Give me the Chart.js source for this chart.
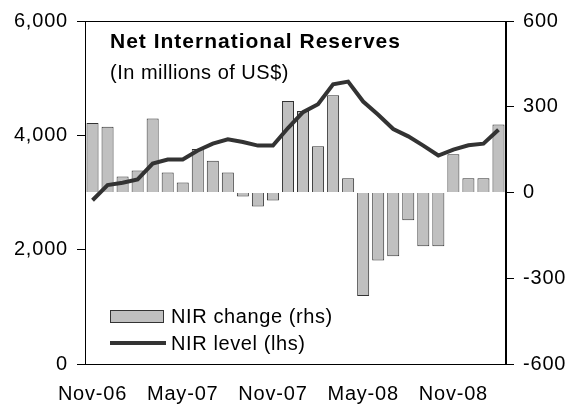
<!DOCTYPE html>
<html>
<head>
<meta charset="utf-8">
<script src="https://cdn.jsdelivr.net/npm/chart.js@4"></script>
<style>
  html, body { margin: 0; padding: 0; background: #fff; }
  #box { width: 571px; height: 408px; }
</style>
</head>
<body>
<div id="box"><canvas id="grafico"></canvas></div>
<script>
// dados
const meses = ['Nov-06','Dec-06','Jan-07','Feb-07','Mar-07','Apr-07','May-07','Jun-07','Jul-07','Aug-07','Sep-07','Oct-07',
               'Nov-07','Dec-07','Jan-08','Feb-08','Mar-08','Apr-08','May-08','Jun-08','Jul-08','Aug-08','Sep-08','Oct-08',
               'Nov-08','Dec-08','Jan-09','Feb-09'];
const nirChange = [243, 230, 56, 77, 259, 70, 35, 152, 111, 70, -14, -49, -28, 320, 285, 162, 340, 50,
                   -362, -238, -223, -97, -188, -188, 134, 50, 50, 238];
const nirLevel = [2864, 3130, 3170, 3229, 3507, 3577, 3577, 3734, 3855, 3930, 3883, 3820, 3820, 4127, 4405, 4544,
                  4892, 4939, 4591, 4360, 4110, 3982, 3820, 3647, 3751, 3826, 3855, 4099];
const ticksEsq = [0, 2000, 4000, 6000];
const ticksDir = [-600, -300, 0, 300, 600];

const fonte = '"Liberation Sans", Arial, sans-serif';
Chart.defaults.font.family = fonte;
Chart.defaults.font.size = 20;
Chart.defaults.color = '#000';

// espaçamento das letras como no original
const espaco = {
    id: 'espaco',
    beforeDraw(chart) { chart.ctx.letterSpacing = '0.8px'; }
};

// moldura, titulo e legenda desenhados por cima
const extras = {
    id: 'extras',
    afterDraw(chart) {
        const ctx = chart.ctx;
        const a = chart.chartArea;
        ctx.save();
        ctx.strokeStyle = '#000';
        ctx.lineWidth = 1;
        ctx.strokeRect(Math.round(a.left) + 0.5, Math.round(a.top) + 0.5,
                       Math.round(a.right - a.left) - 1, Math.round(a.bottom - a.top));

        ctx.fillStyle = '#000';
        ctx.textBaseline = 'middle';
        ctx.textAlign = 'left';
        ctx.letterSpacing = '1px';
        ctx.font = 'bold 21px ' + fonte;
        ctx.fillText('Net International Reserves', 110, 42);
        ctx.letterSpacing = '0.5px';
        ctx.font = '20px ' + fonte;
        ctx.fillText('(In millions of US$)', 110, 73);

        // legenda
        const ds = chart.data.datasets;
        ctx.fillStyle = ds[0].backgroundColor;
        ctx.strokeStyle = ds[0].borderColor;
        ctx.fillRect(110.5, 310.5, 53, 12);
        ctx.strokeRect(110.5, 310.5, 53, 12);
        ctx.strokeStyle = ds[1].borderColor;
        ctx.lineWidth = ds[1].borderWidth;
        ctx.beginPath();
        ctx.moveTo(110, 343);
        ctx.lineTo(166, 343);
        ctx.stroke();
        ctx.fillStyle = '#000';
        ctx.letterSpacing = '0.6px';
        ctx.font = '20px ' + fonte;
        ctx.fillText(ds[0].label, 171, 317);
        ctx.fillText(ds[1].label, 171, 344);
        ctx.restore();
        ctx.letterSpacing = '0px';
    }
};

new Chart(document.getElementById('grafico'), {
    type: 'bar',
    data: {
        labels: meses,
        datasets: [{
            type: 'bar',
            label: 'NIR change (rhs)',
            data: nirChange,
            yAxisID: 'yDir',
            backgroundColor: '#c0c0c0',
            borderColor: '#333333',
            borderWidth: 1,
            barPercentage: 0.8,
            categoryPercentage: 1,
            order: 2
        }, {
            type: 'line',
            label: 'NIR level (lhs)',
            data: nirLevel,
            yAxisID: 'yEsq',
            borderColor: '#333333',
            borderWidth: 4,
            pointRadius: 0,
            tension: 0,
            order: 1
        }]
    },
    options: {
        responsive: true,
        maintainAspectRatio: false,
        animation: false,
        layout: { padding: { top: 19, left: 0, right: 0, bottom: 0 } },
        plugins: { legend: { display: false }, tooltip: { enabled: false } },
        scales: {
            x: {
                grid: { display: false, drawTicks: false },
                border: { display: true, color: '#000' },
                ticks: {
                    autoSkip: false,
                    maxRotation: 0,
                    padding: 18,
                    callback: function (v, i) { return i % 6 === 0 ? meses[i] : ''; }
                },
                afterFit(s) { s.height = 44; }
            },
            yEsq: {
                position: 'left',
                min: 0, max: 6000,
                afterBuildTicks(s) { s.ticks = ticksEsq.map(v => ({ value: v })); },
                ticks: {
                    padding: 9,
                    callback: v => v.toLocaleString('en-US')
                },
                grid: { drawOnChartArea: false, drawTicks: true, tickLength: 8, color: '#000' },
                border: { display: true, color: '#000' },
                afterFit(s) { s.width = 85; }
            },
            yDir: {
                position: 'right',
                min: -600, max: 600,
                afterBuildTicks(s) { s.ticks = ticksDir.map(v => ({ value: v })); },
                ticks: { padding: 9 },
                grid: { drawOnChartArea: false, drawTicks: true, tickLength: 8, color: '#000' },
                border: { display: true, color: '#000' },
                afterFit(s) { s.width = 65; }
            }
        }
    },
    plugins: [espaco, extras]
});
</script>
</body>
</html>
